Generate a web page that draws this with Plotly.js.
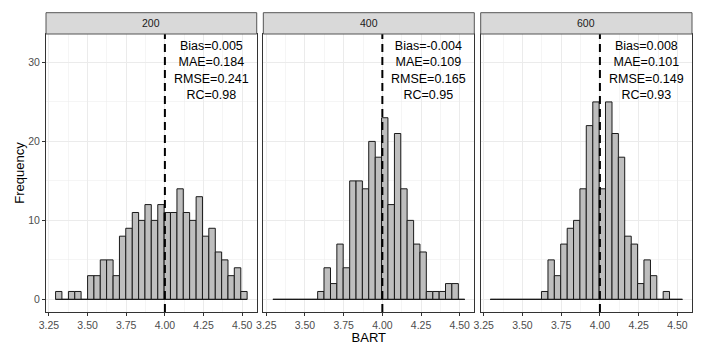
<!DOCTYPE html>
<html>
<head>
<meta charset="utf-8">
<script src="https://cdn.plot.ly/plotly-3.0.1.min.js"></script>
<style>html,body{margin:0;padding:0;background:#fff;}#chart{width:709px;height:345px;}</style>
</head>
<body>
<div id="chart"></div>
<script>
// ---- data ----
const binEdges = [3.293,3.334,3.376,3.417,3.458,3.500,3.541,3.582,3.623,3.665,3.706,3.747,3.789,3.830,3.871,3.912,3.954,3.995,4.036,4.078,4.119,4.160,4.202,4.243,4.284,4.326,4.367,4.408,4.449,4.491,4.532];
const counts200 = [1,0,1,1,0,3,3,5,5,3,8,9,11,10,12,10,12,11,11,14,11,10,13,8,9,6,5,3,4,1];
const counts400 = [0,0,0,0,0,0,0,1,4,2,7,4,15,15,14,20,18,23,12,21,14,10,7,6,1,1,1,2,2,0];
const counts600 = [0,0,0,0,0,0,0,0,1,5,3,7,9,10,14,22,25,14,25,21,18,8,7,2,5,3,0,1,0,0];
const panelLabels = ['200','400','600'];
const statsText = [
  ['Bias=0.005','MAE=0.184','RMSE=0.241','RC=0.98'],
  ['Bias=-0.004','MAE=0.109','RMSE=0.165','RC=0.95'],
  ['Bias=0.008','MAE=0.101','RMSE=0.149','RC=0.93']
];
const trueValue = 4.0;
const xTickVals = [3.25,3.50,3.75,4.00,4.25,4.50];
const xTickText = ['3.25','3.50','3.75','4.00','4.25','4.50'];
const yTickVals = [0,10,20,30];
const yTickText = ['0','10','20','30'];
const xLabel = 'BART';
const yLabel = 'Frequency';

// ---- build ----
const allCounts = [counts200, counts400, counts600];
const centers = binEdges.slice(0,-1).map((e,i)=> (e+binEdges[i+1])/2);
const widths = binEdges.slice(0,-1).map((e,i)=> binEdges[i+1]-e);
const sfx = ['', '2', '3'];
const domains = [[0,0.3262],[0.3364,0.6630],[0.6729,1]];
const FONT = 'Liberation Sans, Arial, Helvetica, sans-serif';

const traces = [];
allCounts.forEach((c,i)=>{
  traces.push({
    type:'bar', x:centers, y:c, width:widths,
    marker:{color:'#BEBEBE', line:{color:'#1a1a1a', width:1}},
    xaxis:'x'+sfx[i], yaxis:'y'+sfx[i], hoverinfo:'skip', showlegend:false
  });
  traces.push({
    type:'scatter', mode:'lines', x:[binEdges[0], binEdges[binEdges.length-1]], y:[0,0],
    line:{color:'#1a1a1a', width:1}, xaxis:'x'+sfx[i], yaxis:'y'+sfx[i],
    hoverinfo:'skip', showlegend:false
  });
});

const layout = {
  width:709, height:345,
  margin:{l:46, r:17, t:34, b:33},
  paper_bgcolor:'#fff', plot_bgcolor:'#fff',
  font:{family:FONT, color:'#000'},
  showlegend:false,
  shapes:[], annotations:[]
};
const stripH = 21.3/278;
sfx.forEach((s,i)=>{
  layout['xaxis'+s] = {
    domain:domains[i], range:[3.231,4.594], anchor:'y'+s,
    tickmode:'array', tickvals:xTickVals, ticktext:xTickText,
    ticks:'outside', ticklen:3, tickwidth:1, tickcolor:'#333',
    tickfont:{size:10.5, color:'#4D4D4D', family:FONT},
    showgrid:true, gridcolor:'#EBEBEB', gridwidth:1,
    minor:{tickmode:'linear', tick0:3.125, dtick:0.25, showgrid:true, gridcolor:'#EBEBEB', gridwidth:0.5, ticks:''},
    zeroline:false, showline:true, mirror:true, linecolor:'#333', linewidth:1,
    title: i===1 ? {text:xLabel, font:{size:13, color:'#000'}, standoff:3} : undefined
  };
  layout['yaxis'+s] = {
    domain:[0,1], range:[-1.6,33.6], anchor:'x'+s,
    tickmode:'array', tickvals:yTickVals, ticktext: i===0 ? yTickText : ['','','',''],
    ticks: i===0 ? 'outside' : '', ticklen:3, tickwidth:1, tickcolor:'#333',
    tickfont:{size:10.5, color:'#4D4D4D', family:FONT},
    showgrid:true, gridcolor:'#EBEBEB', gridwidth:1,
    minor:{tickmode:'linear', tick0:5, dtick:10, showgrid:true, gridcolor:'#EBEBEB', gridwidth:0.5, ticks:''},
    zeroline:false, showline:true, mirror:true, linecolor:'#333', linewidth:1,
    title: i===0 ? {text:yLabel, font:{size:13, color:'#000'}, standoff:0} : undefined
  };
  layout.shapes.push({
    type:'line', xref:'x'+s, yref:'y'+s+' domain', x0:trueValue, x1:trueValue, y0:0, y1:1,
    line:{color:'#000', width:2, dash:'8px,5px'}, layer:'above'
  });
  layout.shapes.push({
    type:'rect', xref:'x'+s+' domain', yref:'paper', x0:0, x1:1, y0:1, y1:1+stripH,
    fillcolor:'#D9D9D9', line:{color:'#555', width:1}
  });
  layout.annotations.push({
    xref:'x'+s+' domain', yref:'paper', x:0.5, y:1+stripH/2, text:panelLabels[i],
    showarrow:false, xanchor:'center', yanchor:'middle', font:{size:10.5, color:'#1A1A1A'}
  });
  layout.annotations.push({
    xref:'x'+s, yref:'y'+s, x:4.3, y:29, text:statsText[i].join('<br>'),
    showarrow:false, xanchor:'center', yanchor:'middle', align:'center',
    font:{size:12.5, color:'#000'}
  });
});

Plotly.newPlot('chart', traces, layout, {displayModeBar:false, staticPlot:true});
</script>
</body>
</html>
